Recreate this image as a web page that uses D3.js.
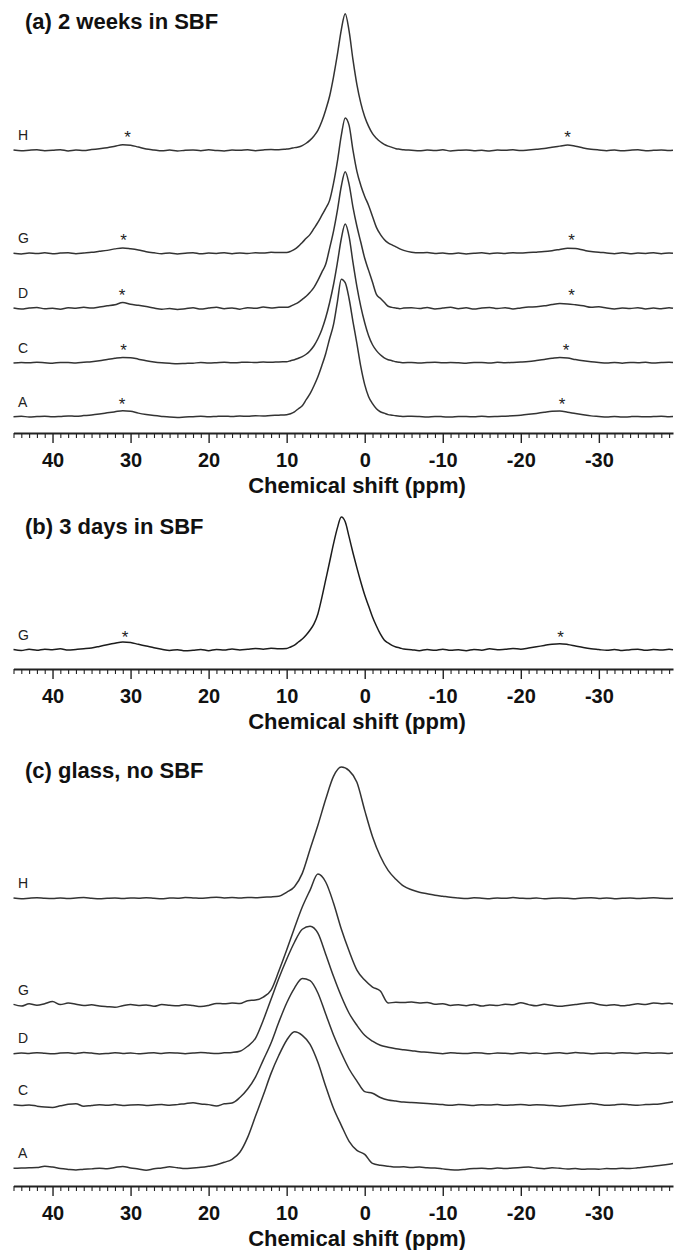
<!DOCTYPE html>
<html><head><meta charset="utf-8">
<script src="https://cdn.jsdelivr.net/npm/d3@7"></script>
<style>
html,body{margin:0;padding:0;background:#fff;}
svg{display:block;}
</style></head>
<body><svg id="chart" width="674" height="1250"></svg>
<script>
// ---------------- DATA ----------------
// chemical-shift grid (ppm) for panels (a) and (b)
const ppmAB = [45,44,43,42,41,40,39,38,37,36,35,34,33,32,31,30,29,28,27,26,25,24,23,22,21,20,19,18,17,16,15,14,13,12,11,
  10,9.5,9,8.5,8,7.5,7,6.5,6,5.5,5,4.5,4,3.5,3,2.5,2,1.5,1,0.5,0,-0.5,-1,-1.5,-2,-2.5,-3,-3.5,-4,-4.5,-5,
  -6,-7,-8,-9,-10,-11,-12,-13,-14,-15,-16,-17,-18,-19,-20,-21,-22,-23,-24,-25,-26,-27,-28,-29,-30,-31,-32,-33,-34,-35,-36,-37,-38,-39,-39.5];
// chemical-shift grid (ppm) for panel (c)
const ppmC = [45,44,43,42,41,40,39,38,37,36,35,34,33,32,31,30,29,28,27,26,25,24,23,22,21,20,19,18,17,16,15,14,13,12,11,10,
  9,8,7,6,5,4,3,2,1,0,-1,-2,-3,-4,-5,-6,-7,-8,-9,-10,-11,-12,-13,-14,-15,-16,-17,-18,-19,-20,-21,-22,-23,-24,-25,-26,-27,-28,-29,
  -30,-31,-32,-33,-34,-35,-36,-37,-38,-39,-39.5];

// (a) 2 weeks in SBF — intensities (relative units)
const weeksH = [0.2,-0.3,0.1,0.4,-0.2,0,0.5,-0.4,0.2,-0.1, 0.6,1.2,1.9,3.0,4.1,3.8,2.4,1.0,0.3,-0.3, 0.2,-0.5,0.1,0.3,-0.2,0.4,-0.1,-0.4,0.2,0, 0.5,-0.2,0.3,0.6,0.4,
  1.0,1.3,2.0,2.4,3.5,5.2,7.5,10.5,14.6,21, 29.5,39.5,53.5,70,88,99.8,87,66,48,34.5, 24.5,17.5,12.2,8.8,6.3,4.4,3.1,2.2,1.2,0.8, 0.4,
  0.1,-0.3,0.2,-0.1,0.4,-0.4,0,0.3,-0.2,0.1, -0.5,0.2,0,0.4,-0.1,0.3,0.8,1.4,2.3,3.1, 3.9,3.0,1.8,0.9,0.3,-0.2,0.2,-0.3,0.1,0.4, -0.2,0,0.3,-0.1,0.1];
const weeksG = [0.1,-0.4,0.3,-0.1,0.4,-0.3,0.2,0.5,-0.2,0.3, 0.8,1.5,2.2,3.3,4.0,3.4,2.5,1.2,0.4,-0.2, 0.3,-0.4,0.1,0.5,-0.3,0.2,0,0.4,-0.2,0.3, -0.1,0.5,0.2,0.8,0.6,
  0.7,1.5,2.9,5.1,8,11,13.9,18.2,22.6,27.7, 32.8,38.7,51.1,67.2,86.1,98.9,93.4,75.2,59.9,49.6, 41.6,35,27,19,13.9,10.2,7.7,6.2,4.8,3.3, 2.2,
  0.9,0.4,0.6,-0.1,0.3,-0.3,0.2,-0.4,0.1,0.4, -0.2,0.3,0,0.5,0.2,0.6,0.9,1.3,2.0,2.9, 3.8,3.5,2.4,1.3,0.9,0.3,-0.2,0.4,-0.3,0.2, 0,0.4,-0.2,0.3,0.1];
const weeksD = [0.3,-0.5,0.2,0.6,-0.3,0.1,-0.6,0.4,0,0.7, 0.2,1.0,1.8,2.6,4.2,3.0,2.2,1.3,0.2,-0.6, -0.2,-0.8,-0.3,0.4,-0.5,0.2,0.8,-0.3,0.3,-0.6, 0.5,0.1,0.9,0.2,0.8,
  0.7,1.5,2.9,4.4,6.6,8.8,11.7,15.3,20.4,26.3, 32.1,43.8,56.2,71.5,89.1,99.7,90.5,73.7,59.9,48.2, 36.5,27.7,19,10.2,7.3,4.4,1.5,0.7,0.3,-0.3, 0.2,
  0.5,-0.2,0.6,-0.4,0.2,0.8,-0.3,0.4,-0.5,0.3, 0.6,-0.2,0.5,-0.4,0.3,0.9,1.2,1.8,2.8,3.5, 3.2,2.6,1.9,0.8,1.1,0.2,-0.4,0.3,-0.2,0.5, -0.5,0.2,-0.3,0.4,0];
const weeksC = [-0.2,0.2,-0.1,0.3,0,-0.3,0.2,0.1,-0.2,0.3, 0.7,1.4,2.4,3.3,3.9,3.7,2.6,1.5,0.6,0, -0.4,-0.7,-0.5,-0.3,0.1,-0.2,0,0.3,-0.1,0.2, 0.4,0.1,0.5,0.3,0.6,
  0.7,1.5,2.2,3.3,4.4,6.2,8.8,12.4,17.5,24.1, 32.8,43.8,56.9,73,90.5,101.2,92,73,55.5,40.9, 29.2,19.7,13.1,8.8,5.8,3.6,2.2,1.5,0.7,0.3, 0,
  0.2,-0.2,0.1,0.3,-0.1,0.2,0,-0.3,0.1,0.2, -0.2,0.3,0,0.2,0.5,0.9,1.6,2.4,3.2,3.8, 3.4,2.3,1.4,0.7,0.2,-0.2,0.1,-0.3,0.2,0, 0.3,-0.2,0.1,0.3,0.2];
const weeksA = [0,0.3,-0.2,0.1,0.4,-0.1,0.2,0.6,0.3,0.8, 1.3,2.0,2.8,3.6,4.4,3.9,2.6,1.6,0.8,0.2, -0.3,-0.5,-0.2,0,0.3,-0.1,0.2,0.4,0.1,0.5, 0.3,0.7,0.5,0.9,1.1,
  1.5,2.2,3.6,5.8,8,12.4,16.8,22.6,29.2,37.2, 46,56.9,67.2,83.9,100.3,97.8,86.1,69.3,53.3,36.5, 23.4,14.6,9.5,5.8,3.6,2.6,1.5,1.1,0.7,0.4, 0.2,
  0.3,0.1,-0.2,0.2,0,-0.3,0.1,0.2,-0.1,0.3, 0,0.2,0.4,0.7,1.1,1.7,2.4,3.2,3.9,4.1, 3.3,2.3,1.4,0.6,0.2,-0.2,0.1,-0.3,0,0.2, -0.1,0.1,0.3,0,0.1];
const weeksLabels = ["H","G","D","C","A"];
// spinning sideband positions (ppm) marked with *
const weeksSidebands = [[30.4,-26.0],[30.9,-26.5],[31.1,-26.5],[30.9,-25.8],[31.1,-25.3]];

// (b) 3 days in SBF
const daysG = [0.3,-0.4,0.5,-0.2,0.6,0.1,0.8,-0.1,0.4,0.9, 1.5,2.6,3.8,4.9,5.8,5.4,4.1,2.9,1.6,0.5, -0.4,0.2,-0.6,-0.2,0.3,-0.5,0.4,-0.1,0.7,0, 0.5,1.0,0.6,1.2,0.9,
  1.1,2.2,3.6,5.8,8,10.9,14.6,19,26.3,38, 51.1,64.2,77.4,89.1,97.0,93.6,82.5,70.8,59.9,49.6, 40.1,32.1,24.1,17.5,11.7,7.3,5.1,3.3,2.2,1.5, 0.7,
  0.2,-0.5,0.3,-0.2,0.6,-0.3,0.1,-0.6,0.4,-0.2, 0.8,0.1,0.5,1.0,0.6,1.4,2.3,3.3,4.2,4.6, 4.0,2.9,1.8,0.9,0.3,-0.3,0.4,-0.4,0.2,0.6, -0.2,0.3,-0.1,0.5,0.2];
const daysLabels = ["G"];
const daysSidebands = [[30.7,-25.1]];

// (c) glass, no SBF
const glassH = [0.2,-0.3,0.1,0.4,0,-0.2,0.3,-0.1,0.2,0.5, 0.1,-0.3,0,0.2,-0.2,0.3,0.1,0.4,0,-0.4, 0.2,0.1,0.5,0.3,0,0.4,0.7,0.3,0.5,0.2, 0.6,0.4,0.8,1.0,
  1.5,4.4,8.5,18.2,35.8,53.3,72.3,89,95.8,93.2,84.7,64.2,45,30.7,20.4,13.9,8.8,6.2,4.4,3.3,2.2,1.5,0.8,
  0.3,-0.2,0.4,0.1,-0.3,0.2,0,0.5,0.1,-0.2, 0.3,-0.4,0.1,0.3,0,-0.3,0.2,0.4,-0.1,0.2, -0.3,0,0.3,-0.2,0.1,0.4,0,-0.2,0.1];
const glassG = [0.5,-0.8,0.9,-0.2,1.0,2.6,0.3,1.4,0.6,-0.4, 0.2,-0.7,-1.2,-1.6,-0.5,0.4,-0.3,0.1,-0.9,0.3, -0.2,-0.6,0.2,-0.4,-1.1,-0.3,1.2,0.9,1.4,
  1.1,3.2,3.6,5.8,10.9,24.8,40.1,56.2,71.5,83.9, 95.6,89.8,74.5,55.5,39.4,25.5,18.2,13.1,10.2,1.5,
  2.0,1.8,2.2,1.5,1.9,0.6,1.0,-0.3,0.2,-0.5, 0.4,-0.8,0.1,-0.4,0.6,0.2,1.6,0.3,-0.6,0.5, -0.2,-0.9,-0.3,0.4,1.1,1.6,0.4,-0.3,0.2,-0.6, 0.1,0.9,0.4,1.5,1.0,1.3,0.8];
const glassD = [-0.3,0.2,-0.1,0.4,0,-0.4,0.1,0.3,-0.2,0.5, 0.1,-0.5,-0.2,0.3,-0.1,0.2,-0.4,0,0.3,-0.2, 0.4,0.1,-0.3,0.2,0.5,0.1,-0.2,0.3,0.6,
  1.5,5.1,10.9,24.1,39.4,54.7,68.6,81,90.5,92.7, 87.6,72.3,56.2,41.6,29.2,20.4,13.1,8.8,5.8,4.4, 3.3,2.6,1.9,1.1,0.7,
  0.2,-0.3,0.4,0,-0.2,0.3,0.1,-0.4,0.2,0, -0.3,0.4,-0.1,0.2,-0.4,0,0.3,-0.2,0.5,0.1, -0.3,0,0.2,-0.2,0.4,0.1,-0.1,0.3,0,0.2, -0.1,0.1];
const glassC = [0.2,-0.4,0.1,-0.8,-1.5,-1.8,-0.6,0.5,1.0,-0.9, -0.3,0.2,-0.1,0.3,-0.4,0,0.2,-0.3,0.1,0.4, -0.2,0.3,1.0,1.6,0.8,0.3,-0.7,0.9,
  1.5,5.5,11.7,20.4,32.8,45.3,60.6,74.5,85.4,92.4, 90.8,81.8,66.4,51.1,38,26.3,17.5,9.8,8.6,5.5, 3.6,2.9,2.2,1.8,1.5,1.1,
  0.8,0.3,-0.2,0.4,0.1,-0.3,0.2,0,0.3,-0.2, 0.1,0.4,-0.1,0.2,0,-0.4,-0.8,-0.3,0.2,0.5, 1.1,0.4,-0.2,0.1,0.6,0.2,-0.1,0.3,0.5,1.0, 1.8,2.4];
const glassA = [0,0.2,0.4,0.6,1.5,0.9,-0.2,-0.8,-1.2,-0.6, -0.4,0.1,-0.3,0.6,1.4,0.3,-0.5,-1.4,-0.3,0.2, 1.1,0.4,-0.2,0.3,
  0.7,1.5,2.6,4.4,6.6,11.7,22.6,38,53.3,69.3, 82.5,93.5,99.7,97.1,90.5,77.4,59.9,43.8,31.4,19.7, 13.1,10.2,3.6,2.2,1.5,
  0.9,1.1,0.6,0.9,0.4,0.2,-0.4,-1.0,-1.2,-0.6, -0.2,0.1,-0.3,0.2,-0.1,0.3,0.6,0.9,0.2,-0.3, 0.4,0,-0.5,-0.2,-0.7,-0.4,-0.6,-0.2,-0.3,0.1, -0.2,0.4,0.9,1.6,2.2,3.0,3.5];
const glassLabels = ["H","G","D","C","A"];

// axis tick labels
const majorTicks = [40,30,20,10,0,-10,-20,-30];
const axisTitle = "Chemical shift (ppm)";

// ---------------- LAYOUT / DRAWING ----------------
const FONT = "'Liberation Sans', Arial, Helvetica, sans-serif";
const PX_PER_UNIT = 1.37;
const svg = d3.select("#chart");
const x = d3.scaleLinear().domain([45, -39.5]).range([13.5, 673]);
const minorTicks = d3.range(-39, 46).filter(v => v % 10 !== 0);

const panels = [
  { title: "(a) 2 weeks in SBF", titleY: 29, top: 0, axisY: 433, grid: ppmAB,
    series: [weeksH, weeksG, weeksD, weeksC, weeksA], labels: weeksLabels,
    offsets: [206.3, 131.1, 91.0, 51.3, 11.9], sidebands: weeksSidebands, stroke: "#333" },
  { title: "(b) 3 days in SBF", titleY: 534, top: 500, axisY: 669, grid: ppmAB,
    series: [daysG], labels: daysLabels,
    offsets: [13.9], sidebands: daysSidebands, stroke: "#1c1c1c" },
  { title: "(c) glass, no SBF", titleY: 778, top: 760, axisY: 1186, grid: ppmC,
    series: [glassH, glassG, glassD, glassC, glassA], labels: glassLabels,
    offsets: [210.0, 132.1, 96.9, 59.1, 12.9], sidebands: null, stroke: "#333" }
];

panels.forEach(p => {
  const y = d3.scaleLinear()
    .domain([0, (p.axisY - p.top) / PX_PER_UNIT])
    .range([p.axisY, p.top]);
  const g = svg.append("g");

  // title
  g.append("text").attr("x", 25).attr("y", p.titleY)
    .attr("font-family", FONT).attr("font-weight", "bold").attr("font-size", 22)
    .attr("fill", "#111").text(p.title);

  // spectra
  p.series.forEach((vals, i) => {
    const off = p.offsets[i];
    const line = d3.line()
      .curve(d3.curveMonotoneX)
      .x((d, j) => x(p.grid[j]))
      .y(d => y(d + off));
    g.append("path").datum(vals)
      .attr("d", line)
      .attr("fill", "none").attr("stroke", p.stroke)
      .attr("stroke-width", 1.5).attr("stroke-linejoin", "round");

    // sample label
    g.append("text").attr("x", 18).attr("y", y(off) - 10)
      .attr("font-family", FONT).attr("font-size", 14).attr("fill", "#222")
      .text(p.labels[i]);

    // sideband asterisks
    if (p.sidebands) {
      p.sidebands[i].forEach(s => {
        g.append("text").attr("x", x(s)).attr("y", y(off) - 7)
          .attr("text-anchor", "middle")
          .attr("font-family", FONT).attr("font-size", 17).attr("fill", "#222")
          .text("*");
      });
    }
  });

  // axis
  const ax = g.append("g").attr("transform", `translate(0,${p.axisY})`)
    .call(d3.axisBottom(x).tickValues(majorTicks).tickSize(10).tickSizeOuter(0)
      .tickPadding(10).tickFormat(d => String(d)));
  ax.select(".domain").attr("stroke", "#222").attr("stroke-width", 1.8);
  ax.selectAll(".tick line").attr("stroke", "#222").attr("stroke-width", 1.4);
  ax.selectAll(".tick text").attr("font-family", FONT).attr("font-weight", "bold")
    .attr("font-size", 20).attr("fill", "#111");

  const mx = g.append("g").attr("transform", `translate(0,${p.axisY})`)
    .call(d3.axisBottom(x).tickValues(minorTicks).tickSize(5).tickSizeOuter(0).tickFormat(""));
  mx.select(".domain").remove();
  mx.selectAll(".tick line").attr("stroke", "#222").attr("stroke-width", 1.1);

  g.append("text").attr("x", 357).attr("y", p.axisY + 60)
    .attr("text-anchor", "middle")
    .attr("font-family", FONT).attr("font-weight", "bold").attr("font-size", 22)
    .attr("fill", "#111").text(axisTitle);
});
</script>
</body></html>
